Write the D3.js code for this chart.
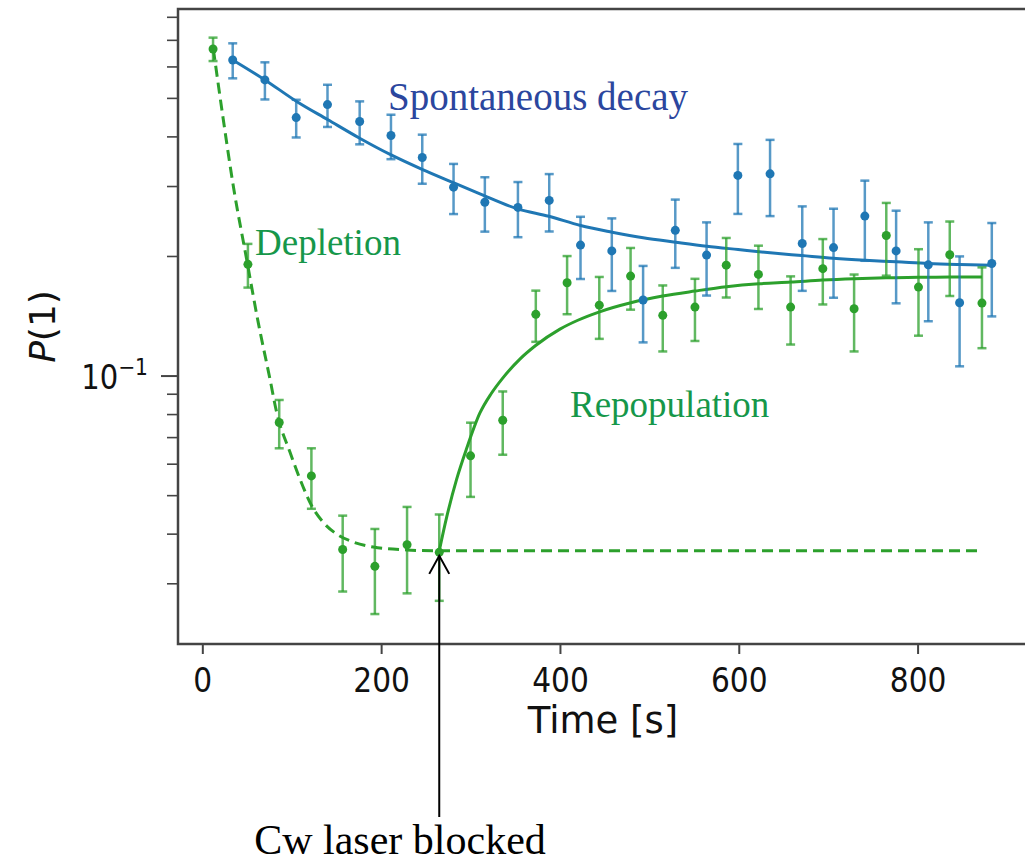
<!DOCTYPE html>
<html>
<head>
<meta charset="utf-8">
<script src="https://cdn.jsdelivr.net/npm/d3@7"></script>
<style>
  body { margin: 0; background: #fff; }
  svg { display: block; }
</style>
</head>
<body>
<svg id="chart" width="1025" height="865"></svg>
<script>
// Spontaneous decay: measured population P(1) vs time
const blueTime = [34, 70, 105, 140, 176, 211, 246, 281, 316, 353, 388, 423, 458, 493, 529, 564, 599, 635, 671, 706, 741, 776, 812, 847, 883];
const blueP    = [0.623, 0.555, 0.446, 0.481, 0.436, 0.402, 0.354, 0.298, 0.273, 0.265, 0.276, 0.213, 0.206, 0.155, 0.232, 0.201, 0.319, 0.322, 0.215, 0.210, 0.252, 0.206, 0.190, 0.1525, 0.1915];
const blueErr  = [0.063, 0.0595, 0.0485, 0.0585, 0.054, 0.0515, 0.050, 0.043, 0.0427, 0.042, 0.0455, 0.038, 0.0427, 0.0338, 0.0453, 0.042, 0.0638, 0.070, 0.0516, 0.053, 0.0575, 0.054, 0.053, 0.047, 0.0506];

// Depletion then repopulation: measured population P(1) vs time
const greenTime = [12, 51, 86, 122, 157, 193, 229, 265, 300, 336, 373, 408, 444, 479, 515, 551, 586, 622, 658, 694, 729, 765, 801, 836, 872];
const greenP    = [0.664, 0.1905, 0.0762, 0.0559, 0.0365, 0.0331, 0.0375, 0.0359, 0.0628, 0.0772, 0.1426, 0.1713, 0.1504, 0.1780, 0.1418, 0.1487, 0.1896, 0.1797, 0.1487, 0.1858, 0.1473, 0.2252, 0.1670, 0.2014, 0.1522];
const greenErr  = [0.045, 0.024, 0.0106, 0.0097, 0.0079, 0.008, 0.0092, 0.0088, 0.0133, 0.014, 0.021, 0.0286, 0.0267, 0.0315, 0.0268, 0.0265, 0.0324, 0.0326, 0.029, 0.0348, 0.0323, 0.0468, 0.041, 0.0428, 0.035];

// Fitted curves, sampled
const decayFitTime = [34, 70, 105.5, 140.5, 175.5, 210.6, 246.4, 281.4, 310.5, 352.6, 387.6, 423.1, 458.4, 493.1, 529.3, 564.3, 599.3, 635.1, 670.5, 705.5, 741.3, 776.4, 812.2, 847.2, 882.6];
const decayFitP    = [0.623, 0.555, 0.4898, 0.4405, 0.3963, 0.3597, 0.3299, 0.3054, 0.2866, 0.2628, 0.2518, 0.2386, 0.2296, 0.2222, 0.2166, 0.2116, 0.2076, 0.2037, 0.2005, 0.1974, 0.1951, 0.1934, 0.1915, 0.1904, 0.1896];

const depletionFitTime = [12.3, 23.5, 34.7, 49.6, 62.3, 75.7, 83.2, 98.1, 109.2, 122.3, 135.3, 150.3, 168.8, 191.2, 228.5, 265.7, 869.5];
const depletionFitP    = [0.664, 0.4405, 0.2995, 0.196, 0.1369, 0.0979, 0.0807, 0.0641, 0.0549, 0.0470, 0.0427, 0.0399, 0.0381, 0.0370, 0.0364, 0.0362, 0.0362];

const repopFitTime = [265, 273.3, 284.4, 295.6, 310.5, 323, 336.2, 355.2, 372.8, 400, 420, 443.5, 479.3, 514.8, 551, 586.3, 622.4, 657.9, 693.7, 729.4, 764.8, 801, 836.3, 872.1];
const repopFitP    = [0.0362, 0.0440, 0.0548, 0.0655, 0.0805, 0.0900, 0.0987, 0.1100, 0.1190, 0.1309, 0.1378, 0.1445, 0.1525, 0.1585, 0.1632, 0.1674, 0.1703, 0.1719, 0.1739, 0.1753, 0.1763, 0.1767, 0.1771, 0.1771];

// Axis ticks
const xTickValues = [0, 200, 400, 600, 800];
const yMajorTicks = [0.1];
const yMinorTicks = [0.03, 0.04, 0.05, 0.06, 0.07, 0.08, 0.09, 0.2, 0.3, 0.4, 0.5, 0.6, 0.7, 0.8];

// Annotation
const laserBlockedTime = 265;
const laserBlockedP = 0.0362;

const BLUE = "#1f77b4";
const GREEN = "#2ca02c";

const svg = d3.select("#chart");

const plot = { left: 178, right: 1028, top: 9, bottom: 644 };

const x = d3.scaleLinear().domain([-27.2, 923.5]).range([plot.left, plot.right]);
const y = d3.scaleLog().domain([0.0211, 0.837]).range([plot.bottom, plot.top]);

const AXIS_COLOR = "#444";
const TICK_FONT = "'DejaVu Sans', sans-serif";

// x axis
const xAxis = d3.axisBottom(x).tickValues(xTickValues).tickSize(10).tickPadding(8).tickFormat(d3.format("d"));
const gx = svg.append("g").attr("transform", `translate(0,${plot.bottom})`).call(xAxis);
gx.select(".domain").remove();
gx.selectAll(".tick line").attr("stroke", AXIS_COLOR).attr("stroke-width", 2);
gx.selectAll(".tick text").remove();
gx.selectAll(".tick").append("text")
  .attr("y", 48)
  .attr("text-anchor", "middle")
  .attr("transform", "scale(0.9,1)")
  .attr("fill", "#111")
  .style("font-family", TICK_FONT)
  .style("font-size", "33px")
  .text(d => d3.format("d")(d));

// y axis: major ticks
const yAxisMajor = d3.axisLeft(y).tickValues(yMajorTicks).tickSize(17).tickFormat(() => "");
const gy = svg.append("g").attr("transform", `translate(${plot.left},0)`).call(yAxisMajor);
gy.select(".domain").remove();
gy.selectAll(".tick line").attr("stroke", AXIS_COLOR).attr("stroke-width", 2);
gy.selectAll(".tick text").remove();

// y axis: minor ticks
const yAxisMinor = d3.axisLeft(y).tickValues(yMinorTicks).tickSize(11).tickFormat(() => "");
const gyMinor = svg.append("g").attr("transform", `translate(${plot.left},0)`).call(yAxisMinor);
gyMinor.select(".domain").remove();
gyMinor.selectAll(".tick line").attr("stroke", AXIS_COLOR).attr("stroke-width", 1.6);

// 10^-1 label
yMajorTicks.forEach(v => {
  const g = svg.append("g").attr("transform", `translate(148,${y(v) + 13}) scale(0.88,1)`);
  const t = g.append("text")
    .attr("text-anchor", "end")
    .attr("fill", "#111")
    .style("font-family", TICK_FONT)
    .style("font-size", "33px");
  t.append("tspan").text("10");
  t.append("tspan").attr("dy", -14).style("font-size", "23px").text("\u22121");
});

// spines
svg.append("rect")
  .attr("x", plot.left).attr("y", plot.top)
  .attr("width", plot.right - plot.left).attr("height", plot.bottom - plot.top)
  .attr("fill", "none").attr("stroke", AXIS_COLOR).attr("stroke-width", 2.5);

// axis labels
svg.append("text")
  .attr("x", (plot.left + plot.right) / 2).attr("y", 733)
  .attr("text-anchor", "middle")
  .attr("fill", "#111")
  .style("font-family", TICK_FONT)
  .style("font-size", "37px")
  .text("Time [s]");

const ylab = svg.append("text")
  .attr("transform", `translate(55,${(plot.top + plot.bottom) / 2}) rotate(-90)`)
  .attr("text-anchor", "middle")
  .attr("fill", "#111")
  .style("font-family", TICK_FONT)
  .style("font-size", "36px");
ylab.append("tspan").style("font-style", "italic").text("P");
ylab.append("tspan").text("(1)");

// fit curves
const line = d3.line().x(d => x(d[0])).y(d => y(d[1])).curve(d3.curveMonotoneX);

svg.append("path")
  .datum(decayFitTime.map((t, i) => [t, decayFitP[i]]))
  .attr("d", line).attr("fill", "none").attr("stroke", BLUE).attr("stroke-width", 3);

svg.append("path")
  .datum(depletionFitTime.map((t, i) => [t, depletionFitP[i]]))
  .attr("d", line).attr("fill", "none").attr("stroke", GREEN).attr("stroke-width", 3)
  .attr("stroke-dasharray", "11,6");

svg.append("path")
  .datum(repopFitTime.map((t, i) => [t, repopFitP[i]]))
  .attr("d", line).attr("fill", "none").attr("stroke", GREEN).attr("stroke-width", 3);

// error bars + markers
function drawSeries(times, vals, errs, color) {
  const g = svg.append("g");
  const data = times.map((t, i) => ({ t, v: vals[i], e: errs[i] }));
  const bars = g.selectAll("g.eb").data(data).enter().append("g").attr("class", "eb")
    .attr("stroke", color).attr("stroke-opacity", 0.75).attr("stroke-width", 2.5);
  bars.append("line")
    .attr("x1", d => x(d.t)).attr("x2", d => x(d.t))
    .attr("y1", d => y(d.v + d.e)).attr("y2", d => y(d.v - d.e));
  bars.append("line")
    .attr("x1", d => x(d.t) - 4.5).attr("x2", d => x(d.t) + 4.5)
    .attr("y1", d => y(d.v + d.e)).attr("y2", d => y(d.v + d.e));
  bars.append("line")
    .attr("x1", d => x(d.t) - 4.5).attr("x2", d => x(d.t) + 4.5)
    .attr("y1", d => y(d.v - d.e)).attr("y2", d => y(d.v - d.e));
  g.selectAll("circle").data(data).enter().append("circle")
    .attr("cx", d => x(d.t)).attr("cy", d => y(d.v)).attr("r", 4.5)
    .attr("fill", color);
}
drawSeries(greenTime, greenP, greenErr, GREEN);
drawSeries(blueTime, blueP, blueErr, BLUE);

// text annotations
const SERIF = "'Liberation Serif', 'Times New Roman', serif";
svg.append("text").attr("x", 388).attr("y", 110)
  .attr("fill", "#2b469e").style("font-family", SERIF).style("font-size", "39px")
  .text("Spontaneous decay");
svg.append("text").attr("x", 255).attr("y", 255)
  .attr("fill", "#16974a").style("font-family", SERIF).style("font-size", "37px")
  .text("Depletion");
svg.append("text").attr("x", 570).attr("y", 417)
  .attr("fill", "#16974a").style("font-family", SERIF).style("font-size", "37px")
  .text("Repopulation");

// arrow marking when the cw laser is blocked
const ax = x(laserBlockedTime);
const tipY = y(laserBlockedP) + 5;
svg.append("line").attr("x1", ax).attr("x2", ax).attr("y1", tipY).attr("y2", 817)
  .attr("stroke", "#000").attr("stroke-width", 2);
svg.append("path")
  .attr("d", `M${ax - 10},${tipY + 18} L${ax},${tipY} L${ax + 10},${tipY + 18}`)
  .attr("fill", "none").attr("stroke", "#000").attr("stroke-width", 2);
svg.append("text").attr("x", 400).attr("y", 854)
  .attr("text-anchor", "middle")
  .attr("fill", "#000").style("font-family", SERIF).style("font-size", "42px")
  .text("Cw laser blocked");
</script>
</body>
</html>
